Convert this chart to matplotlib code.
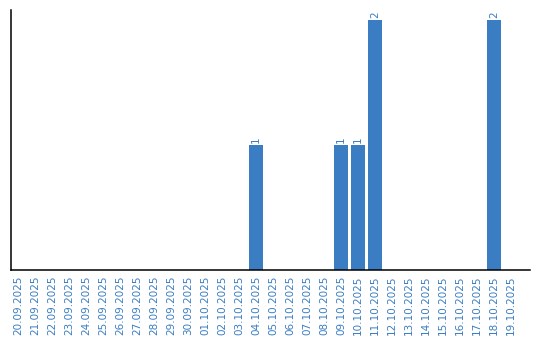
import matplotlib
matplotlib.use("Agg")
import matplotlib.pyplot as plt

dates = ["20.09.2025", "21.09.2025", "22.09.2025", "23.09.2025", "24.09.2025",
         "25.09.2025", "26.09.2025", "27.09.2025", "28.09.2025", "29.09.2025",
         "30.09.2025", "01.10.2025", "02.10.2025", "03.10.2025", "04.10.2025",
         "05.10.2025", "06.10.2025", "07.10.2025", "08.10.2025", "09.10.2025",
         "10.10.2025", "11.10.2025", "12.10.2025", "13.10.2025", "14.10.2025",
         "15.10.2025", "16.10.2025", "17.10.2025", "18.10.2025", "19.10.2025"]
values = [0, 0, 0, 0, 0, 0, 0, 0, 0, 0,
          0, 0, 0, 0, 1, 0, 0, 0, 0, 1,
          1, 2, 0, 0, 0, 0, 0, 0, 2, 0]

BAR = "#3a7dc2"
TXT = "#3a7dc2"

W, H = 540, 340
fig = plt.figure(figsize=(W / 100, H / 100), dpi=100)
ax = fig.add_axes([10.5 / W, (H - 270) / H, (530 - 10.5) / W, (270 - 10) / H])

x = list(range(len(dates)))
bars = ax.bar(x, values, width=0.82, color=BAR)
for xi, v in zip(x, values):
    if v > 0:
        ax.text(xi, v + 0.02, str(v), rotation=90, ha="center", va="bottom",
                color=TXT, fontsize=7.5)

ax.set_xlim(-0.44, 30.12)
ax.set_ylim(0, 2.08)
ax.set_xticks(x)
ax.set_xticklabels(dates, rotation=90, color=TXT, fontsize=7.5)
ax.tick_params(axis="x", length=0, pad=4)
ax.set_yticks([])
for s in ["top", "right"]:
    ax.spines[s].set_visible(False)
for s in ["left", "bottom"]:
    ax.spines[s].set_linewidth(1.1)
    ax.spines[s].set_color("black")

fig.savefig("out.png", dpi=100)
